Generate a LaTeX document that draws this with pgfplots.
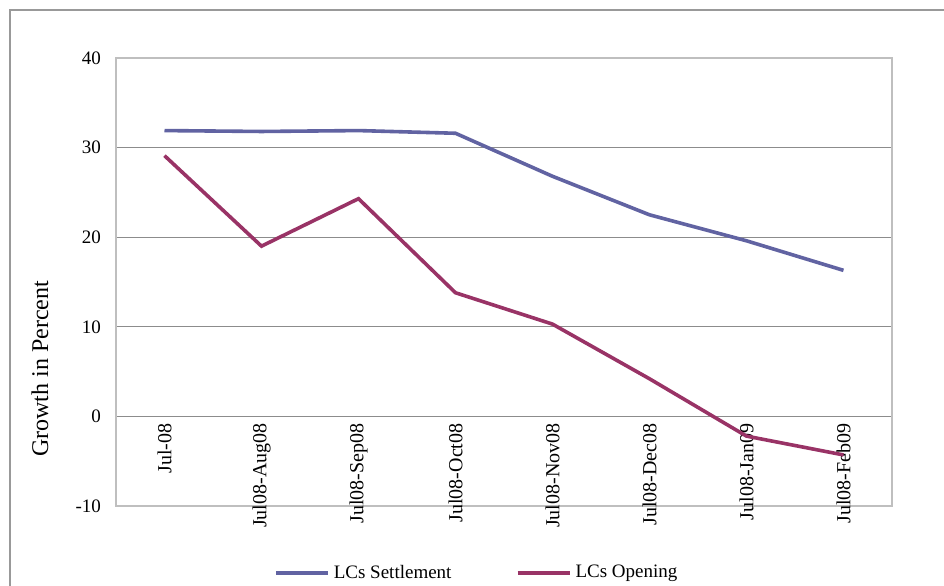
\documentclass[border=0pt]{standalone}
\usepackage{fontspec}
\setmainfont{Liberation Serif}
\usepackage{pgfplots}
\pgfplotsset{compat=1.18}
\definecolor{settle}{HTML}{6163A2}
\definecolor{openc}{HTML}{993366}
\definecolor{gridc}{HTML}{8C8C8C}
\definecolor{boxc}{HTML}{BFBFBF}
\begin{document}
\begin{tikzpicture}
\useasboundingbox (0,0) rectangle (472pt,292.5pt);
\draw[gray!80, line width=0.6pt] (5pt,-1pt) -- (5pt,287.5pt) -- (473pt,287.5pt);
\begin{axis}[
  at={(58pt,39.5pt)}, anchor=south west,
  scale only axis, width=388pt, height=224pt,
  xmin=-0.5, xmax=7.5, ymin=-10, ymax=40,
  xtick={0,...,7},
  xticklabels={Jul-08,Jul08-Aug08,Jul08-Sep08,Jul08-Oct08,Jul08-Nov08,Jul08-Dec08,Jul08-Jan09,Jul08-Feb09},
  ytick={-10,0,10,20,30,40},
  major tick length=0pt,
  ymajorgrids, xmajorgrids=false,
  major grid style={gridc, line width=0.6pt},
  axis line style={boxc, line width=1pt},
  tick label style={font=\fontsize{9.5}{11}\selectfont, text=black},
  /pgf/number format/assume math mode=true,
  xticklabel style={yshift=44.8pt, rotate=90, anchor=east, font=\fontsize{10}{12}\selectfont},
  yticklabel style={xshift=-4pt},
  ylabel={Growth in Percent},
  every axis y label/.style={at={(axis description cs:-0.098,0.306)}, rotate=90, anchor=center, font=\fontsize{12}{14}\selectfont},
  legend style={at={(axis description cs:0.466,-0.15)}, anchor=center, draw=none, fill=none,
    font=\fontsize{9.5}{11}\selectfont, /tikz/every even column/.append style={column sep=30pt}},
  legend columns=-1,
  legend image code/.code={\draw[#1, line width=2pt] (0,0) -- (26pt,0);},
  clip=false,
]
\addplot[settle, line width=1.8pt] coordinates {(0,31.9) (1,31.8) (2,31.9) (3,31.6) (4,26.8) (5,22.5) (6,19.6) (7,16.3)};
\addplot[openc, line width=1.8pt] coordinates {(0,29.1) (1,19.0) (2,24.3) (3,13.8) (4,10.3) (5,4.2) (6,-2.2) (7,-4.3)};
\legend{LCs Settlement, LCs Opening}
\end{axis}
\end{tikzpicture}
\end{document}
